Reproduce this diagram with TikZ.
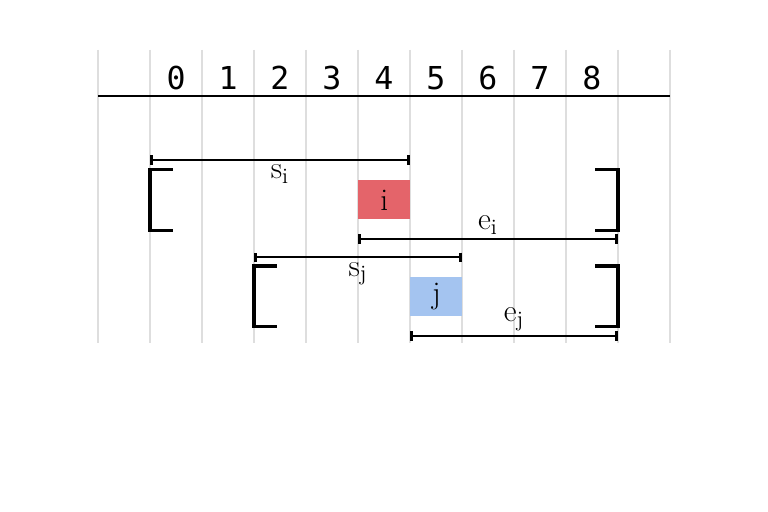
\documentclass[tikz,border=0pt]{standalone}
\usepackage{fontspec}
\setmonofont{DejaVu Sans Mono}
\usetikzlibrary{arrows.meta}
\definecolor{blkred}{HTML}{E4646A}
\definecolor{blkblue}{HTML}{A4C4F0}

\begin{document}
\begin{tikzpicture}[font=\LARGE,
  grid/.style={black!13,line width=0.8pt},
  bar/.style={line width=1.4pt,{Bar[width=1.8mm]}-{Bar[width=1.8mm]}},
  brk/.style={line width=1.7pt},
  blk/.style={minimum width=1cm,minimum height=0.75cm,inner sep=0pt,anchor=north west}]
  \useasboundingbox (-2.885,1.846) rectangle (11.885,-8);
  \foreach \x in {-1,...,10} \draw[grid] (\x,0.885)--(\x,-4.75);
  \foreach \n in {0,...,8} \node[font=\LARGE\ttfamily] (n\n) at (\n+0.5,0.35) {\n};
  \coordinate (ax0) at (-1,0);\coordinate (ax1) at (10,0);
  \draw[line width=1.2pt] (ax0)--(ax1);
  % row i
  \coordinate (si0) at (0,-1.23);\coordinate (si1) at (5,-1.23);
  \coordinate (ei0) at (4,-2.75);\coordinate (ei1) at (9,-2.75);
  \node[blk,fill=blkred] (bi) at (4,-1.615) {$\mathrm{i}$};
  \draw[bar] (si0)--node[below,inner sep=2pt]{$\mathrm{s}_\mathrm{i}$}(si1);
  \draw[bar] (ei0)--node[above,inner sep=2pt]{$\mathrm{e}_\mathrm{i}$}(ei1);
  \draw[brk] (0.44,-1.42)--(0,-1.42)--(0,-2.58)--(0.44,-2.58);
  \draw[brk] (8.56,-1.42)--(9,-1.42)--(9,-2.58)--(8.56,-2.58);
  % row j
  \coordinate (sj0) at (2,-3.10);\coordinate (sj1) at (6,-3.10);
  \coordinate (ej0) at (5,-4.615);\coordinate (ej1) at (9,-4.615);
  \node[blk,fill=blkblue] (bj) at (5,-3.48) {$\mathrm{j}$};
  \draw[bar] (sj0)--node[below,inner sep=2pt]{$\mathrm{s}_\mathrm{j}$}(sj1);
  \draw[bar] (ej0)--node[above,inner sep=2pt]{$\mathrm{e}_\mathrm{j}$}(ej1);
  \draw[brk] (2.44,-3.27)--(2,-3.27)--(2,-4.44)--(2.44,-4.44);
  \draw[brk] (8.56,-3.27)--(9,-3.27)--(9,-4.44)--(8.56,-4.44);
\end{tikzpicture}
\end{document}
